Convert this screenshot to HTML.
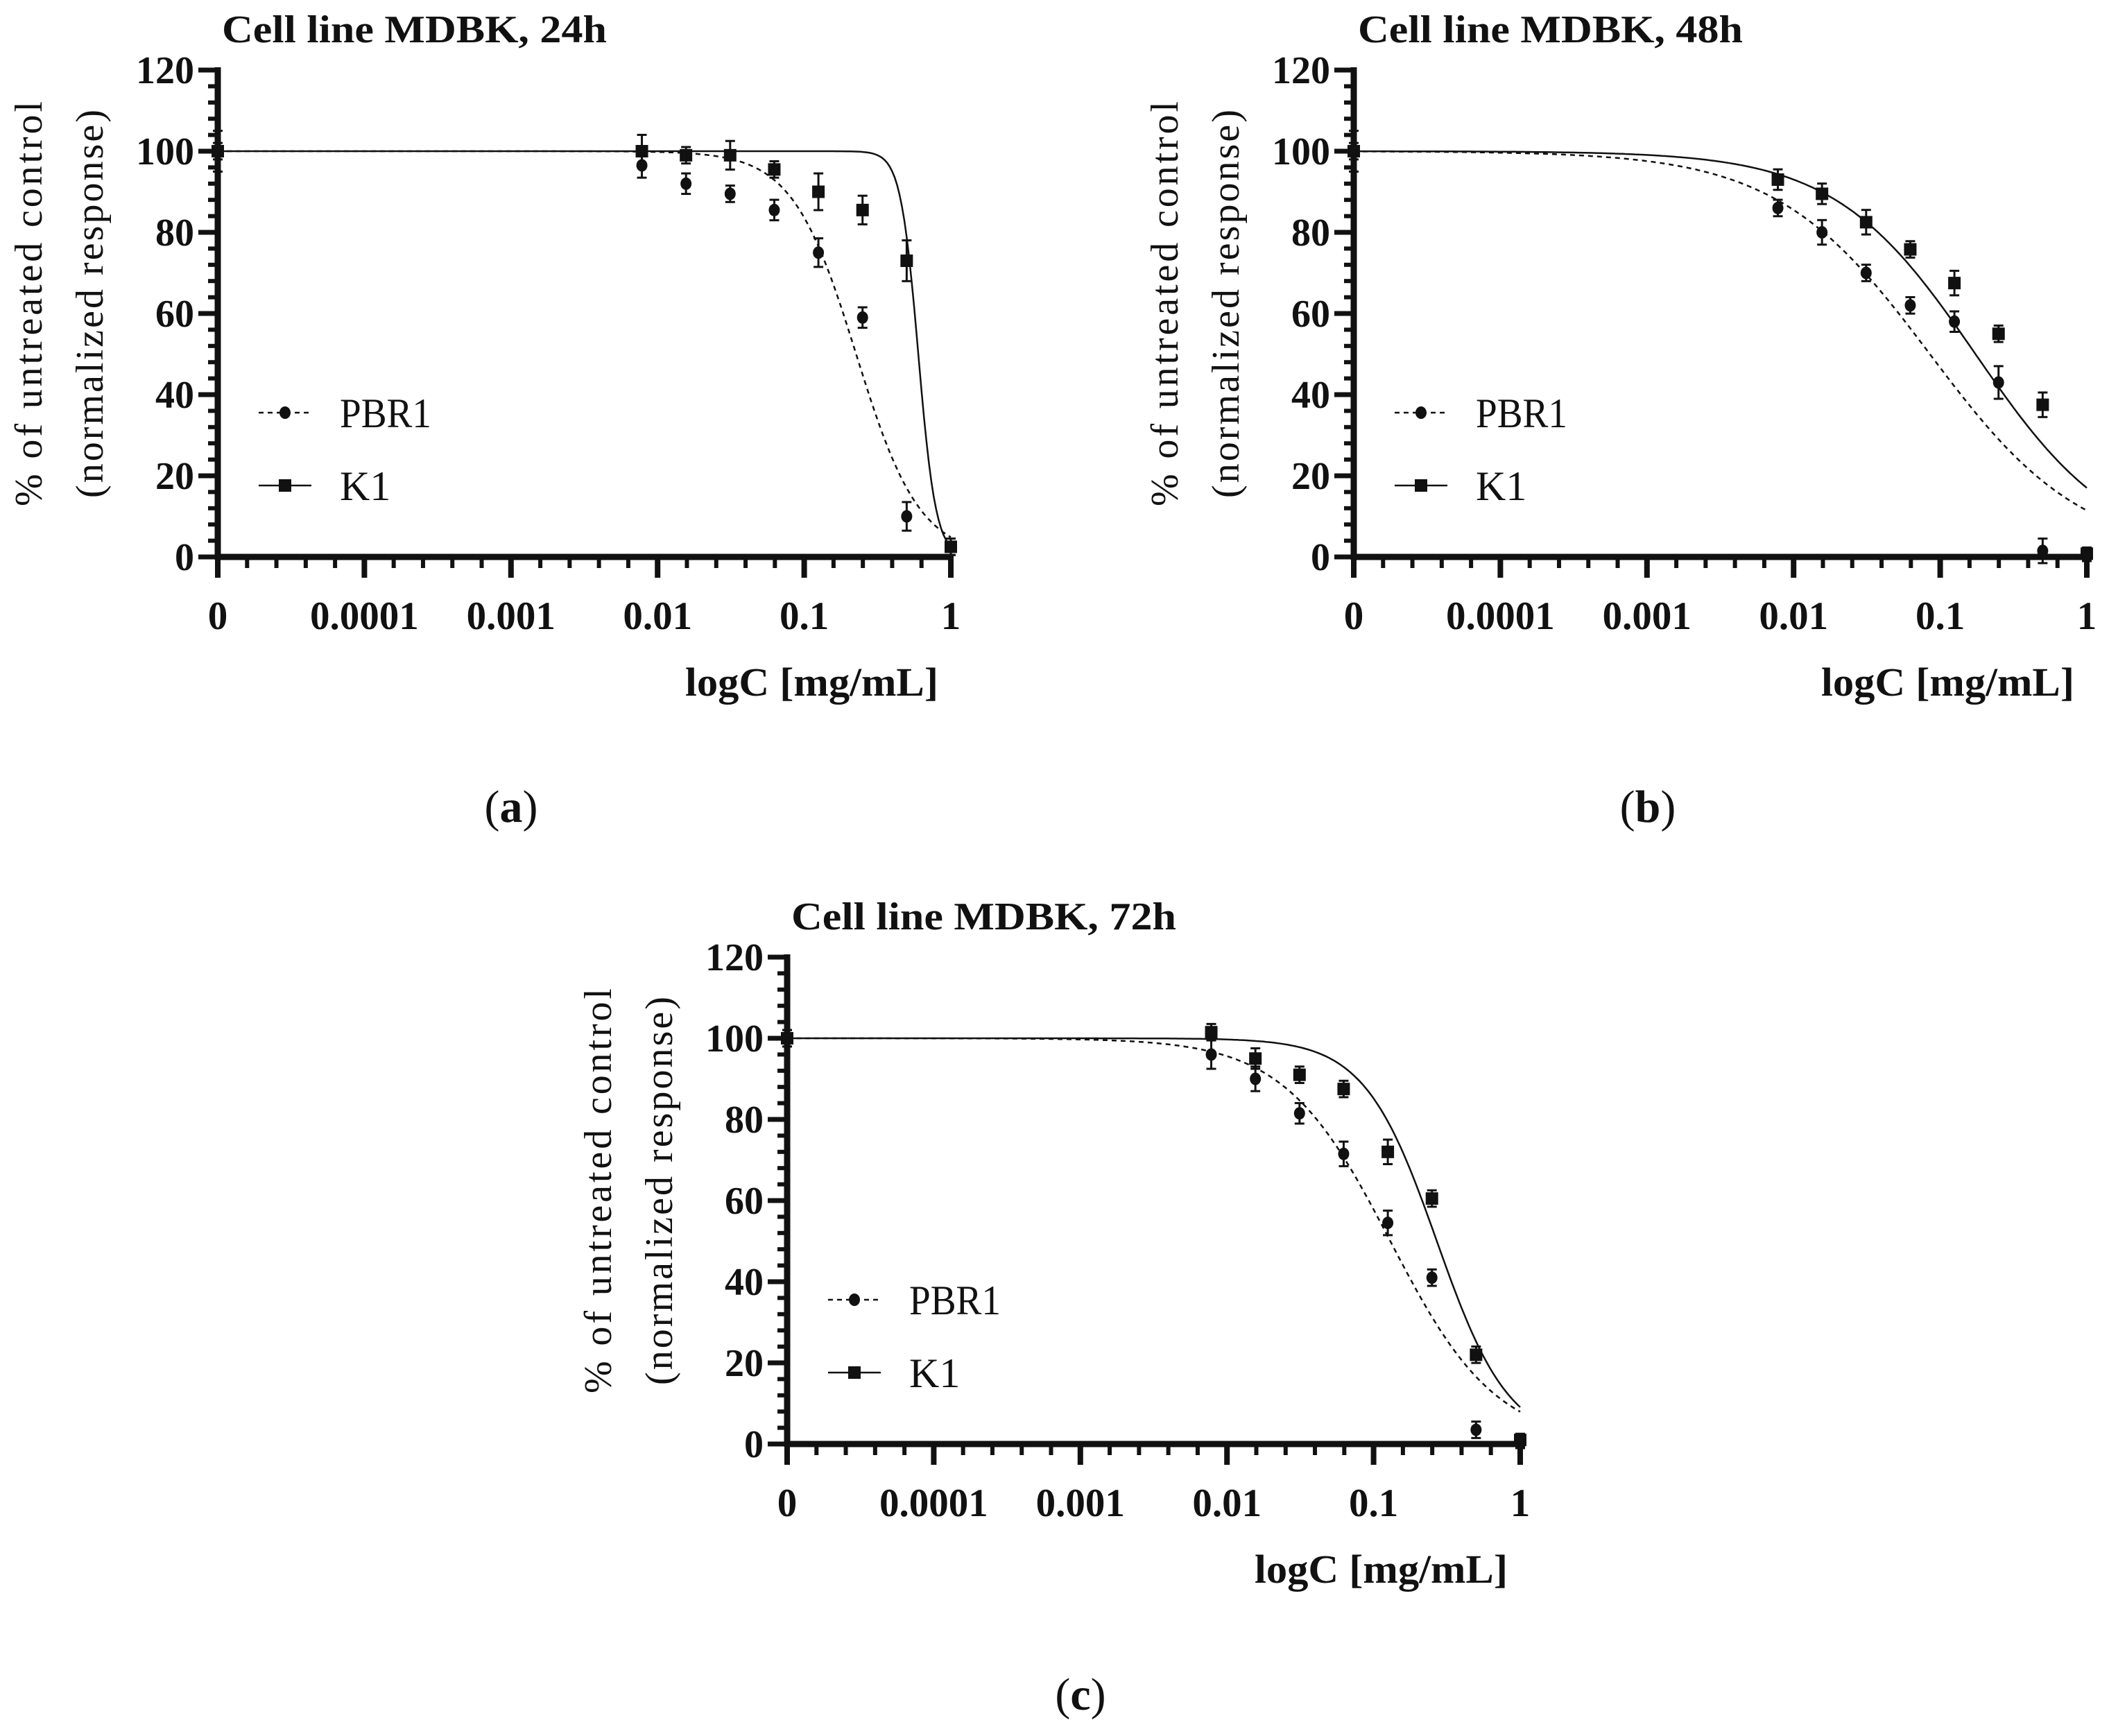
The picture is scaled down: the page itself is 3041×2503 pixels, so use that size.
<!DOCTYPE html>
<html><head><meta charset="utf-8">
<style>
html,body{margin:0;padding:0;background:#fff;}
svg{display:block;}
text{font-family:"Liberation Serif",serif;fill:#111;}
</style></head>
<body>
<svg id="fig" width="3041" height="2503" viewBox="0 0 3041 2503" xmlns="http://www.w3.org/2000/svg"></svg>
<script>
// ---- data ----
const conc = [0, 0.0078125, 0.015625, 0.03125, 0.0625, 0.125, 0.25, 0.5, 1];
const yTicks = [0, 20, 40, 60, 80, 100, 120];
const xTickLabels = ["0", "0.0001", "0.001", "0.01", "0.1", "1"];
const titles = ["Cell line MDBK, 24h", "Cell line MDBK, 48h", "Cell line MDBK, 72h"];
const panelLetters = ["a", "b", "c"];
const pbr1A = [100, 96.5, 92, 89.5, 85.5, 75, 59, 10, 2.5];
const k1A = [100, 100, 99, 99, 95.5, 90, 85.5, 73, 2.5];
const pbr1B = [100, 86, 80, 70, 62, 58, 43, 1.5, 0.5];
const k1B = [100, 93, 89.5, 82.5, 75.8, 67.5, 55, 37.5, 0.8];
const pbr1C = [100, 96, 90, 81.5, 71.5, 54.5, 41, 3.5, 0.5];
const k1C = [100, 101.5, 95, 91, 87.5, 72, 60.5, 22, 1];
const errA_p = [4, 2, 1.5, 1, 1.5, 2.5, 1.5, 2.5, 1];
const errA_k = [1, 3, 1, 2.5, 1, 3.5, 2.5, 4, 1];
const errB_p = [4, 1, 2, 1, 1, 1.5, 3, 2, 0.5];
const errB_k = [1, 1.5, 1.5, 2, 1, 2, 1, 2, 0.5];
const errC_p = [1, 2.5, 2, 1.5, 2, 2, 1, 1, 0.5];
const errC_k = [1, 1, 1.5, 1, 1, 2, 1, 1, 0.5];
// fitted 4PL parameters (IC50 in mg/mL, Hill slope)
const ic50P = [0.226, 0.085, 0.13];
const hillP = [2.0, 0.83, 1.2];
const ic50K = [0.6, 0.174, 0.27];
const hillK = [7.2, 0.906, 1.76];

const NS = "http://www.w3.org/2000/svg";
const svg = document.getElementById('fig');
function mk(tag, attrs, parent){
  const e = document.createElementNS(NS, tag);
  for (const k in attrs) e.setAttribute(k, attrs[k]);
  (parent||svg).appendChild(e);
  return e;
}

const panels = [
  {ax:314, ay0:803, pbr:pbr1A, k1:k1A, ep:errA_p, ek:errA_k, lx:737, ly:1185},
  {ax:1952, ay0:803, pbr:pbr1B, k1:k1B, ep:errB_p, ek:errB_k, lx:2376, ly:1185},
  {ax:1135, ay0:2082, pbr:pbr1C, k1:k1C, ep:errC_p, ek:errC_k, lx:1558, ly:2465}
];

panels.forEach((p, i) => {
  const W = 1057, H = 702, dec = W/5;
  const g = mk('g', {});
  
  
  const xs = c => p.ax + (Math.log10(c <= 0 ? 1e-5 : c) + 5) * dec;
  const ys = v => p.ay0 - v / 120 * H;

  // title
  const t = mk('text', {x:p.ax+6, y:p.ay0-H-40, 'font-size':56, 'font-weight':'bold', textLength:555, lengthAdjust:'spacingAndGlyphs'}, g);
  t.textContent = titles[i];
  
  

  // axes
  const axes = mk('g', {stroke:'#111', 'stroke-width':9, fill:'none'}, g);
  
  
  mk('line', {x1:p.ax, y1:p.ay0-H-4, x2:p.ax, y2:p.ay0+4}, axes);
  mk('line', {x1:p.ax-4, y1:p.ay0, x2:p.ax+W+4, y2:p.ay0}, axes);
  for (let v = 0; v <= 120; v += 4) {
    const major = v % 20 === 0;
    mk('line', {x1:p.ax - (major?28:14), y1:ys(v), x2:p.ax, y2:ys(v), 'stroke-width':major?7:6}, axes);
  }
  yTicks.forEach(v => {
    const tl = mk('text', {x:p.ax-34, y:ys(v)+19, 'font-size':56, 'font-weight':'bold', 'text-anchor':'end'}, g);
    tl.textContent = v;
    
    
  });
  for (let k = 0; k <= 25; k++) {
    const major = k % 5 === 0;
    const x = p.ax + k * dec / 5;
    mk('line', {x1:x, y1:p.ay0, x2:x, y2:p.ay0 + (major?30:16), 'stroke-width':major?8:6}, axes);
  }
  xTickLabels.forEach((lab, k) => {
    const tl = mk('text', {x:p.ax + k*dec, y:p.ay0+104, 'font-size':57, 'font-weight':'bold', 'text-anchor':'middle'}, g);
    tl.textContent = lab;
    
    
  });
  // axis titles
  const xt = mk('text', {x:p.ax+W-18, y:p.ay0+200, 'font-size':58, 'font-weight':'bold', 'text-anchor':'end', textLength:365, lengthAdjust:'spacingAndGlyphs'}, g);
  xt.textContent = 'logC [mg/mL]';
  
  
  const cy = p.ay0 - 365;
  const y1 = mk('text', {x:0, y:0, 'font-size':56, 'text-anchor':'middle', textLength:584, lengthAdjust:'spacing', transform:`translate(${p.ax-254},${cy}) rotate(-90)`}, g);
  y1.textContent = '% of untreated control';
  
  
  const y2 = mk('text', {x:0, y:0, 'font-size':56, 'text-anchor':'middle', textLength:560, lengthAdjust:'spacing', transform:`translate(${p.ax-166},${cy}) rotate(-90)`}, g);
  y2.textContent = '(normalized response)';
  
  

  function curve(ic, h, dash, name) {
    let d = '';
    for (let s = 0; s <= 300; s++) {
      const lg = -5 + s * 5 / 300;
      const c = Math.pow(10, lg);
      const v = 100 / (1 + Math.pow(c / ic, h));
      d += (s ? 'L' : 'M') + xs(c).toFixed(1) + ' ' + ys(v).toFixed(1);
    }
    const path = mk('path', {d:d, fill:'none', stroke:'#111', 'stroke-width':2.5, 'stroke-dasharray':dash}, g);
    
    
  }
  curve(ic50P[i], hillP[i], '7 6', 'pbr1-fit-curve');
  curve(ic50K[i], hillK[i], 'none', 'k1-fit-curve');

  function pts(vals, errs, square, name) {
    vals.forEach((v, j) => {
      const x = xs(conc[j]), y = ys(v), e = errs[j] / 120 * H;
      const pg = mk('g', {}, g);
      
      
      mk('line', {x1:x, y1:y-e-6, x2:x, y2:y+e+6, stroke:'#111', 'stroke-width':3}, pg);
      mk('line', {x1:x-7, y1:y-e-6, x2:x+7, y2:y-e-6, stroke:'#111', 'stroke-width':3}, pg);
      mk('line', {x1:x-7, y1:y+e+6, x2:x+7, y2:y+e+6, stroke:'#111', 'stroke-width':3}, pg);
      if (square) mk('rect', {x:x-9, y:y-9, width:18, height:18, fill:'#111'}, pg);
      else mk('ellipse', {cx:x, cy:y, rx:8, ry:9, fill:'#111'}, pg);
    });
  }
  pts(p.k1, p.ek, true, 'k1');
  pts(p.pbr, p.ep, false, 'pbr1');

  const lg1 = mk('g', {}, g);
  
  
  const ly1 = p.ay0 - 208;
  mk('line', {x1:p.ax+59, y1:ly1, x2:p.ax+135, y2:ly1, stroke:'#111', 'stroke-width':2.5, 'stroke-dasharray':'7 6'}, lg1);
  mk('ellipse', {cx:p.ax+97, cy:ly1, rx:8, ry:9, fill:'#111'}, lg1);
  const lt1 = mk('text', {x:p.ax+176, y:ly1+21, 'font-size':60, textLength:132, lengthAdjust:'spacingAndGlyphs'}, lg1);
  lt1.textContent = 'PBR1';
  const lg2 = mk('g', {}, g);
  
  
  const ly2 = p.ay0 - 103;
  mk('line', {x1:p.ax+59, y1:ly2, x2:p.ax+135, y2:ly2, stroke:'#111', 'stroke-width':2.5}, lg2);
  mk('rect', {x:p.ax+88, y:ly2-9, width:18, height:18, fill:'#111'}, lg2);
  const lt2 = mk('text', {x:p.ax+176, y:ly2+21, 'font-size':60}, lg2);
  lt2.textContent = 'K1';

  const pl = mk('text', {x:p.lx, y:p.ly, 'font-size':66, 'text-anchor':'middle'}, svg);
  pl.innerHTML = '(<tspan font-weight="bold">' + panelLetters[i] + '</tspan>)';
  
  
});
</script>
</body></html>
